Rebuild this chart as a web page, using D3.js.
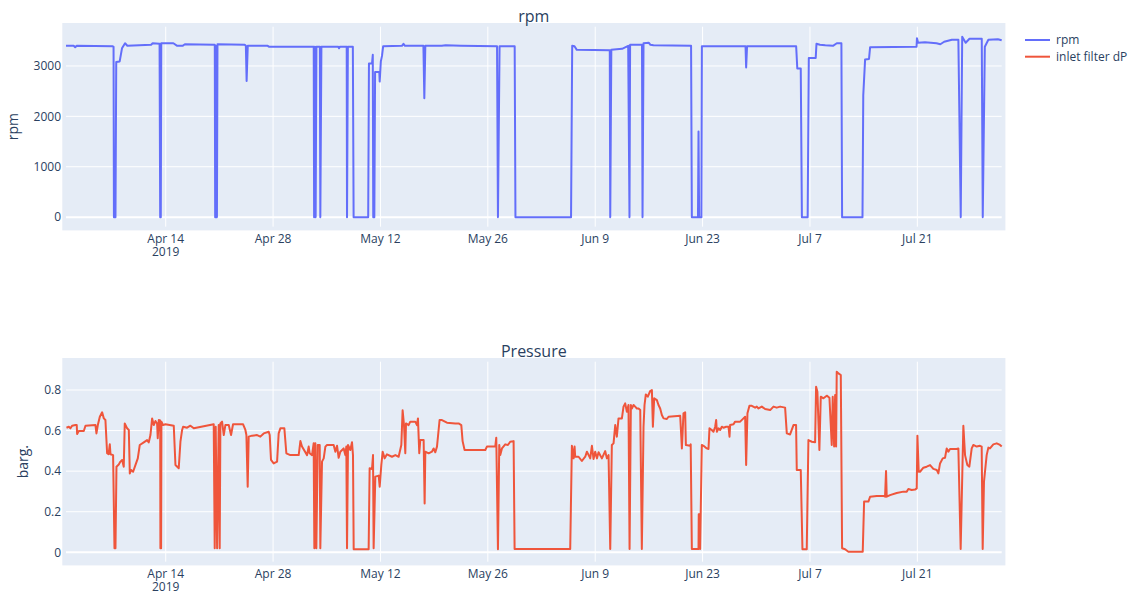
<!DOCTYPE html>
<html>
<head>
<meta charset="utf-8">
<script src="https://cdn.jsdelivr.net/npm/d3@7"></script>
<style>
  html, body { margin: 0; padding: 0; background: #fff; }
  svg { display: block; font-family: "Open Sans", verdana, arial, sans-serif; }
</style>
</head>
<body>
<svg id="chart" width="1130" height="593"></svg>
<script>
// Samples are [days since 2019-04-01 UTC, value]
const rpmSeries = [
  [0.0,3400],[1.0,3400],[1.2,3370],[1.4,3400],[6.1,3390],[6.2,3380],[6.25,0],[6.45,0],[6.55,3080],
  [7.0,3090],[7.3,3350],[7.7,3450],[8.0,3400],[11.1,3420],[11.3,3450],[12.2,3440],[12.28,0],[12.36,0],
  [12.42,3450],[14.0,3450],[14.5,3400],[15.2,3400],[15.5,3430],[19.4,3420],[19.45,0],[19.5,3400],
  [19.55,0],[19.62,3400],[19.68,0],[19.75,3430],[23.3,3420],[23.45,3400],[23.55,2700],[23.7,3400],
  [26.3,3400],[26.5,3380],[27.5,3380],[32.3,3380],[32.35,0],[32.45,3380],[32.55,0],[32.65,3380],
  [33.1,3380],[33.16,0],[33.3,3380],[35.5,3380],[35.6,3350],[35.7,3380],[36.6,3380],[36.64,0],
  [36.75,3380],[37.4,3380],[37.5,0],[39.4,0],[39.5,3050],[39.9,3050],[40.0,3220],[40.06,0],[40.2,0],
  [40.3,2880],[40.85,2880],[40.9,2690],[41.05,3090],[41.2,3200],[41.35,3390],[43.8,3400],[44.0,3440],
  [44.2,3400],[46.6,3400],[46.72,2360],[46.85,3400],[49.0,3400],[49.5,3410],[51.5,3400],[56.2,3390],
  [56.32,0],[56.53,3390],[58.5,3390],[58.6,0],[65.85,0],[66.0,3400],[66.3,3390],[66.6,3320],
  [70.9,3310],[70.96,0],[71.1,3320],[72.5,3340],[73.3,3400],[73.47,0],[73.55,3420],[75.1,3420],
  [75.17,0],[75.3,3450],[76.0,3460],[76.2,3420],[76.6,3410],[81.5,3400],[81.6,0],[82.4,0],
  [82.47,1700],[82.55,0],[82.85,0],[82.91,3390],[88.6,3390],[88.68,2970],[88.8,3390],[95.2,3390],
  [95.35,2950],[95.8,2950],[95.95,0],[96.7,0],[96.85,3160],[97.75,3160],[97.85,3440],[98.3,3420],
  [99.0,3410],[100.0,3400],[100.5,3450],[101.1,3450],[101.19,0],[103.85,0],[103.95,2420],
  [104.19,3130],[104.7,3140],[104.84,3370],[110.9,3380],[110.95,3550],[111.1,3460],[112.0,3470],
  [113.5,3450],[114.0,3430],[114.5,3480],[115.5,3520],[116.35,3520],[116.66,0],[116.85,3580],
  [117.3,3460],[117.8,3540],[119.4,3540],[119.53,0],[119.8,3380],[120.26,3520],[121.5,3530],[122.0,3510]
];

const pressureSeries = [
  [0.06,0.614],[0.37,0.619],[0.58,0.611],[0.80,0.624],[1.23,0.627],[1.40,0.627],[1.45,0.583],[1.67,0.598],
  [2.32,0.598],[2.54,0.624],[3.84,0.627],[3.97,0.586],[4.15,0.627],[4.41,0.668],[4.71,0.690],[4.93,0.660],
  [5.14,0.652],[5.36,0.488],[5.55,0.483],[5.71,0.532],[5.80,0.483],[6.14,0.479],[6.32,0.020],[6.45,0.020],
  [6.58,0.422],[6.88,0.433],[7.10,0.447],[7.32,0.455],[7.53,0.422],[7.66,0.635],[7.97,0.611],[8.19,0.603],
  [8.32,0.389],[8.49,0.406],[8.75,0.397],[9.05,0.430],[9.36,0.463],[9.62,0.529],[10.14,0.542],[10.57,0.553],
  [10.79,0.542],[11.01,0.578],[11.23,0.660],[11.44,0.627],[11.66,0.647],[11.88,0.635],[11.96,0.562],
  [12.10,0.652],[12.28,0.650],[12.31,0.020],[12.40,0.020],[12.44,0.644],[12.66,0.627],[12.96,0.631],
  [14.05,0.624],[14.27,0.430],[14.70,0.414],[14.92,0.545],[15.14,0.603],[15.27,0.619],[15.79,0.614],
  [16.22,0.624],[16.66,0.611],[19.26,0.631],[19.39,0.020],[19.52,0.619],[19.70,0.020],[19.91,0.627],
  [20.04,0.020],[20.13,0.635],[20.35,0.644],[20.57,0.578],[20.78,0.627],[21.22,0.627],[21.52,0.578],
  [21.78,0.631],[23.09,0.631],[23.39,0.603],[23.52,0.578],[23.69,0.323],[23.82,0.570],[24.26,0.575],
  [24.91,0.578],[25.34,0.570],[25.78,0.586],[26.43,0.594],[26.56,0.578],[26.73,0.455],[27.08,0.438],
  [27.52,0.447],[27.73,0.586],[27.95,0.611],[28.47,0.611],[28.73,0.488],[29.25,0.479],[30.34,0.479],
  [30.56,0.548],[30.77,0.521],[31.43,0.479],[31.64,0.521],[31.77,0.488],[32.08,0.479],[32.29,0.537],
  [32.38,0.020],[32.51,0.537],[32.64,0.020],[32.82,0.529],[33.08,0.529],[33.16,0.020],[33.38,0.447],
  [33.60,0.463],[33.82,0.521],[34.03,0.529],[34.90,0.529],[35.12,0.496],[35.34,0.525],[35.55,0.466],
  [35.77,0.496],[36.20,0.512],[36.42,0.479],[36.55,0.521],[36.64,0.020],[36.77,0.529],[37.07,0.504],
  [37.29,0.542],[37.42,0.479],[37.51,0.015],[39.46,0.015],[39.59,0.414],[39.90,0.411],[40.03,0.479],
  [40.11,0.020],[40.33,0.373],[40.77,0.378],[40.90,0.323],[41.11,0.430],[41.29,0.496],[41.55,0.463],
  [41.85,0.483],[42.50,0.471],[42.94,0.479],[43.37,0.471],[43.72,0.529],[43.89,0.700],[44.07,0.627],
  [44.24,0.488],[44.33,0.635],[44.67,0.627],[44.89,0.644],[45.54,0.644],[45.76,0.627],[45.89,0.660],
  [46.06,0.488],[46.19,0.553],[46.63,0.553],[46.76,0.241],[46.85,0.496],[47.28,0.488],[47.71,0.496],
  [47.93,0.512],[48.15,0.493],[48.37,0.521],[48.71,0.652],[49.02,0.652],[49.67,0.639],[50.76,0.635],
  [51.19,0.635],[51.54,0.627],[51.71,0.548],[51.97,0.504],[52.49,0.504],[54.67,0.504],[54.88,0.521],
  [55.97,0.521],[56.10,0.565],[56.32,0.015],[56.49,0.529],[56.62,0.479],[56.84,0.512],[57.27,0.532],
  [57.62,0.529],[57.92,0.545],[58.36,0.548],[58.49,0.016],[65.74,0.016],[65.96,0.525],[66.18,0.463],
  [66.31,0.521],[66.39,0.471],[66.83,0.471],[67.26,0.450],[67.70,0.471],[67.92,0.496],[68.35,0.463],
  [68.57,0.525],[68.78,0.460],[69.00,0.496],[69.22,0.463],[69.44,0.493],[69.87,0.463],[70.30,0.499],
  [70.52,0.463],[70.74,0.479],[70.96,0.016],[71.17,0.529],[71.39,0.537],[71.61,0.627],[71.82,0.570],
  [72.04,0.660],[72.48,0.660],[72.69,0.718],[72.91,0.734],[73.13,0.693],[73.34,0.726],[73.48,0.016],
  [73.65,0.726],[73.78,0.709],[74.00,0.726],[74.21,0.718],[74.43,0.709],[74.65,0.709],[74.87,0.701],
  [75.08,0.016],[75.30,0.619],[75.43,0.726],[75.60,0.778],[75.86,0.767],[76.17,0.795],[76.39,0.800],
  [76.52,0.619],[76.69,0.759],[77.04,0.750],[77.25,0.726],[77.47,0.709],[77.69,0.677],[77.91,0.660],
  [78.34,0.657],[78.56,0.668],[80.08,0.673],[80.30,0.512],[80.51,0.685],[80.73,0.690],[80.82,0.529],
  [81.38,0.525],[81.45,0.532],[81.60,0.016],[82.47,0.016],[82.50,0.187],[82.60,0.187],[82.68,0.016],
  [82.90,0.529],[83.12,0.525],[83.55,0.512],[83.77,0.509],[83.90,0.611],[84.20,0.603],[84.42,0.594],
  [84.64,0.619],[84.77,0.652],[84.86,0.594],[85.07,0.611],[85.29,0.603],[85.51,0.619],[85.72,0.614],
  [86.07,0.619],[86.38,0.619],[86.51,0.570],[86.59,0.627],[87.03,0.631],[87.24,0.644],[87.90,0.644],
  [88.33,0.660],[88.55,0.668],[88.68,0.430],[88.85,0.685],[89.11,0.722],[89.42,0.722],[89.85,0.713],
  [90.07,0.718],[90.29,0.709],[90.72,0.718],[91.15,0.706],[91.81,0.701],[92.24,0.718],[92.67,0.713],
  [93.11,0.718],[93.76,0.713],[93.98,0.586],[94.41,0.581],[94.85,0.627],[95.19,0.627],[95.28,0.406],
  [95.80,0.406],[96.02,0.015],[96.58,0.015],[96.80,0.553],[97.24,0.545],[97.67,0.542],[97.80,0.816],
  [97.97,0.791],[98.23,0.504],[98.41,0.767],[98.76,0.759],[99.19,0.772],[99.54,0.762],[99.84,0.529],
  [99.97,0.767],[100.15,0.521],[100.28,0.775],[100.41,0.521],[100.49,0.890],[100.71,0.882],[101.02,0.874],
  [101.19,0.020],[101.58,0.015],[102.01,0.003],[103.88,0.003],[104.06,0.250],[104.62,0.250],[104.84,0.274],
  [105.71,0.278],[106.58,0.278],[106.79,0.274],[106.92,0.401],[107.01,0.274],[107.44,0.282],[108.31,0.292],
  [109.18,0.299],[109.62,0.299],[109.83,0.312],[110.27,0.307],[110.70,0.309],[110.92,0.315],[111.01,0.575],
  [111.18,0.397],[111.35,0.397],[111.79,0.417],[112.22,0.422],[112.66,0.430],[113.09,0.411],[113.53,0.406],
  [113.74,0.389],[113.96,0.438],[114.31,0.463],[114.61,0.466],[114.83,0.512],[115.05,0.496],[115.26,0.509],
  [116.13,0.509],[116.35,0.512],[116.65,0.016],[117.00,0.624],[117.22,0.479],[117.52,0.430],[117.78,0.422],
  [118.09,0.512],[118.30,0.529],[118.74,0.521],[119.17,0.525],[119.39,0.521],[119.52,0.016],[119.69,0.348],
  [120.04,0.479],[120.26,0.516],[120.47,0.512],[120.91,0.532],[121.35,0.537],[121.78,0.529],[122.0,0.521]
];

const dateTicks = ["2019-04-14","2019-04-28","2019-05-12","2019-05-26","2019-06-09","2019-06-23","2019-07-07","2019-07-21"];
const rpmTicks = [0, 1000, 2000, 3000];
const pressureTicks = [0, 0.2, 0.4, 0.6, 0.8];
const seriesNames = ["rpm", "inlet filter dP"];
const subplotTitles = ["rpm", "Pressure"];
const yAxisTitles = ["rpm", "barg."];

const colors = ["#636efa", "#EF553B"];
const textColor = "#2a3f5f";
const start = Date.UTC(2019, 3, 1);
const toDate = d => new Date(start + d * 864e5);

const svg = d3.select("#chart");
const x = d3.scaleUtc()
  .domain([new Date(start), new Date(Date.UTC(2019, 7, 1))])
  .range([66, 1001.7]);

const panels = [
  { top: 26.7, bottom: 226.7, domain: [-190, 3779], ticks: rpmTicks, data: rpmSeries, color: colors[0],
    title: subplotTitles[0], yTitle: yAxisTitles[0], yTitleX: 13.5, fmt: d3.format("d") },
  { top: 361.7, bottom: 561.7, domain: [-0.0463, 0.9394], ticks: pressureTicks, data: pressureSeries, color: colors[1],
    title: subplotTitles[1], yTitle: yAxisTitles[1], yTitleX: 23.5, fmt: d => String(d) }
];

const fmtDay = d3.utcFormat("%b %-d");
const fmtYear = d3.utcFormat("%Y");
const tickDates = dateTicks.map(s => new Date(s + "T00:00:00Z"));

panels.forEach(p => {
  const y = d3.scaleLinear().domain(p.domain).range([p.bottom, p.top]);
  const g = svg.append("g");
  const pad = 3.7;

  g.append("rect")
    .attr("x", x.range()[0] - pad).attr("y", p.top - pad)
    .attr("width", x.range()[1] - x.range()[0] + 2 * pad)
    .attr("height", p.bottom - p.top + 2 * pad)
    .attr("fill", "#E5ECF6");

  // vertical grid
  g.selectAll(".vg").data(tickDates).join("line")
    .attr("x1", d => x(d)).attr("x2", d => x(d))
    .attr("y1", p.top).attr("y2", p.bottom)
    .attr("stroke", "#fff").attr("stroke-width", 1);

  // horizontal grid (zero line thicker)
  g.selectAll(".hg").data(p.ticks).join("line")
    .attr("x1", x.range()[0]).attr("x2", x.range()[1])
    .attr("y1", d => y(d)).attr("y2", d => y(d))
    .attr("stroke", "#fff").attr("stroke-width", d => d === 0 ? 2 : 1);

  // y tick labels
  g.selectAll(".yl").data(p.ticks).join("text")
    .attr("x", 61).attr("y", d => y(d))
    .attr("dy", "0.35em").attr("text-anchor", "end")
    .attr("font-size", 12).attr("fill", textColor)
    .text(p.fmt);

  // x tick labels; the first one carries the year on a second line
  const xl = g.selectAll(".xl").data(tickDates).join("text")
    .attr("x", d => x(d)).attr("y", p.bottom + 12.5)
    .attr("dy", "0.35em").attr("text-anchor", "middle")
    .attr("font-size", 12).attr("fill", textColor);
  xl.append("tspan").attr("x", d => x(d)).text(fmtDay);
  xl.filter((d, i) => i === 0).append("tspan")
    .attr("x", d => x(d)).attr("dy", 12.6).text(fmtYear);

  // subplot title
  g.append("text")
    .attr("x", (x.range()[0] + x.range()[1]) / 2).attr("y", p.top - 10)
    .attr("dy", "0.35em").attr("text-anchor", "middle")
    .attr("font-size", 16).attr("fill", textColor)
    .text(p.title);

  // y axis title
  const cy = (p.top + p.bottom) / 2;
  g.append("text")
    .attr("transform", `translate(${p.yTitleX},${cy}) rotate(-90)`)
    .attr("dy", "0.35em").attr("text-anchor", "middle")
    .attr("font-size", 14).attr("fill", textColor)
    .text(p.yTitle);

  const line = d3.line().x(d => x(toDate(d[0]))).y(d => y(d[1]));
  g.append("path")
    .datum(p.data)
    .attr("d", line)
    .attr("fill", "none")
    .attr("stroke", p.color)
    .attr("stroke-width", 2)
    .attr("stroke-linejoin", "round");
});

// legend
const legend = svg.append("g").attr("transform", "translate(1025,40)");
seriesNames.forEach((name, i) => {
  const row = legend.append("g").attr("transform", `translate(0,${i * 16.7})`);
  row.append("line").attr("x1", 0).attr("x2", 25).attr("y1", 0).attr("y2", 0)
    .attr("stroke", colors[i]).attr("stroke-width", 2);
  row.append("text").attr("x", 31).attr("y", 0).attr("dy", "0.35em")
    .attr("font-size", 12).attr("fill", textColor).text(name);
});
</script>
</body>
</html>
